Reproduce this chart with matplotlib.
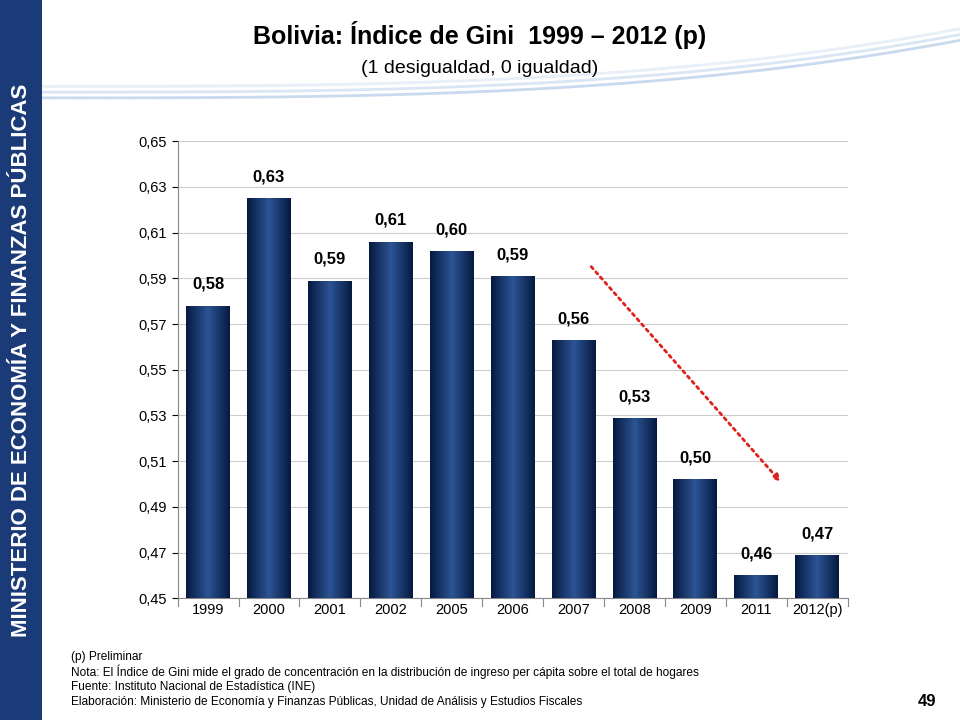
import matplotlib.pyplot as plt
import numpy as np
from matplotlib.patches import Rectangle

plt.rcParams["font.family"] = "Liberation Sans"

years = ["1999", "2000", "2001", "2002", "2005", "2006", "2007", "2008", "2009", "2011", "2012(p)"]
gini = [0.578, 0.625, 0.589, 0.606, 0.602, 0.591, 0.563, 0.529, 0.502, 0.460, 0.469]
labels = ["0,58", "0,63", "0,59", "0,61", "0,60", "0,59", "0,56", "0,53", "0,50", "0,46", "0,47"]
yticks = np.arange(0.45, 0.651, 0.02)
trend_start = (6.26, 0.596)
trend_end = (9.43, 0.500)

fig = plt.figure(figsize=(9.6, 7.2), dpi=100)

# left band
band = fig.add_axes([0, 0, 0.044, 1])
band.set_axis_off()
band.add_patch(Rectangle((0, 0), 1, 1, color="#1b3a78", transform=band.transAxes))
fig.text(0.022, 0.5, "MINISTERIO DE ECONOMÍA Y FINANZAS PÚBLICAS", rotation=90,
         color="white", fontsize=16, fontweight="bold", ha="center", va="center")

# top swoosh lines
sw = fig.add_axes([0.044, 0.84, 0.956, 0.16])
sw.set_axis_off()
sw.set_xlim(0, 1)
sw.set_ylim(0, 1)
t = np.linspace(0, 1, 200)
for k, c in enumerate(["#c9d9ee", "#dbe6f4", "#e8eff8"]):
    sw.plot(t, 0.15 + 0.05 * k + 0.5 * t ** 3, color=c, lw=2)

fig.text(0.5, 0.951, "Bolivia: Índice de Gini  1999 – 2012 (p)", ha="center", va="center",
         fontsize=18, fontweight="bold")
fig.text(0.5, 0.905, "(1 desigualdad, 0 igualdad)", ha="center", va="center", fontsize=14)

ax = fig.add_axes([0.185, 0.169, 0.698, 0.635])
x = np.arange(len(years))
bars = ax.bar(x, gini, width=0.72, color="#0d2a5c", zorder=2)
grad = np.concatenate([np.linspace(0, 1, 50), np.linspace(1, 0, 50)])[None, :]
cmap = plt.matplotlib.colors.LinearSegmentedColormap.from_list("b", ["#061a40", "#2c5394"])
for b in bars:
    im = ax.imshow(grad, cmap=cmap, aspect="auto", zorder=3,
                   extent=[b.get_x(), b.get_x() + b.get_width(), 0.45, b.get_height()])
    im.set_clip_path(b)
for xi, v, lab in zip(x, gini, labels):
    ax.text(xi, v + 0.006, lab, ha="center", va="bottom", fontsize=12, fontweight="bold")

ax.annotate("", xy=trend_end, xytext=trend_start,
            arrowprops=dict(arrowstyle="-|>", color="#e0201b", lw=2, linestyle=(0, (1, 1.5))))

ax.set_xlim(-0.5, len(years) - 0.5)
ax.set_ylim(0.45, 0.65)
ax.set_yticks(yticks)
ax.set_yticklabels([f"{v:.2f}".replace(".", ",") for v in yticks])
ax.set_xticks(x)
ax.set_xticklabels(years)
ax.tick_params(labelsize=10.5, length=4)
ax.grid(axis="y", color="#cccccc", lw=0.8, zorder=0)
for s in ["top", "right"]:
    ax.spines[s].set_visible(False)
ax.spines["left"].set_color("#888888")
ax.spines["bottom"].set_color("#888888")
for xb in np.arange(-0.5, len(years), 1):
    ax.plot([xb, xb], [0.45, 0.4465], color="#888888", lw=0.8, clip_on=False)
ax.tick_params(axis="x", length=0)

notes = ["(p) Preliminar",
         "Nota: El Índice de Gini mide el grado de concentración en la distribución de ingreso per cápita sobre el total de hogares",
         "Fuente: Instituto Nacional de Estadística (INE)",
         "Elaboración: Ministerio de Economía y Finanzas Públicas, Unidad de Análisis y Estudios Fiscales"]
for i, n in enumerate(notes):
    fig.text(0.074, 0.087 - i * 0.0205, n, fontsize=8.6, va="center")
fig.text(0.975, 0.015, "49", fontsize=12, fontweight="bold", ha="right", va="bottom")

fig.savefig("out.png", dpi=100)
